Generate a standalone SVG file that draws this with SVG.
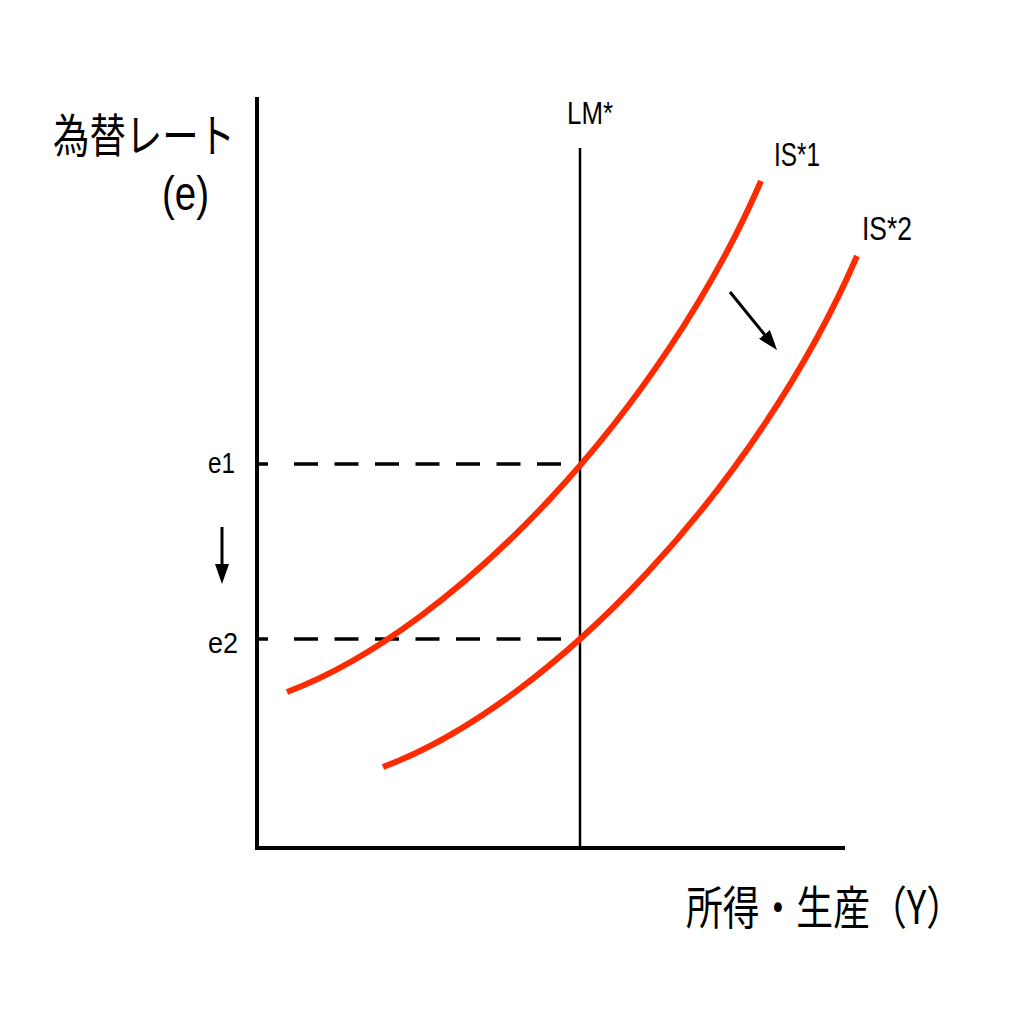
<svg xmlns="http://www.w3.org/2000/svg" width="1026" height="1026" viewBox="0 0 1026 1026">
<style>
.axis{stroke:#000;stroke-width:4;fill:none}
.lm{stroke:#000;stroke-width:2.5;fill:none}
.dash{stroke:#000;stroke-width:3.5;fill:none;stroke-dasharray:24 16.5}
.tick{stroke:#000;stroke-width:3.5;fill:none}
.is{stroke:#ff2b00;stroke-width:6;fill:none}
.arr{stroke:#000;stroke-width:3;fill:none;marker-end:url(#ah)}
.jp{font-family:"Noto Sans CJK JP","Noto Sans CJK SC",sans-serif;fill:#000}
.lat{font-family:"Liberation Sans",Arial,sans-serif;fill:#000}
</style>
<defs>
<marker id="ah" markerUnits="userSpaceOnUse" markerWidth="20" markerHeight="14" refX="2" refY="7" orient="auto">
<path d="M0,0 L20,7 L0,14 z" fill="#000"/>
</marker>
</defs>
<rect width="1026" height="1026" fill="#fff"/>
<g id="axes">
<line class="axis" x1="257" y1="97" x2="257" y2="850"/>
<line class="axis" x1="255" y1="848" x2="845" y2="848"/>
</g>
<g id="connectors">
<line class="tick" x1="257" y1="464" x2="268" y2="464"/>
<line class="dash" x1="294" y1="464" x2="575" y2="464"/>
<line class="tick" x1="257" y1="639" x2="268" y2="639"/>
<line class="dash" x1="294" y1="639" x2="575" y2="639"/>
<line class="arr" x1="222" y1="527" x2="222" y2="566"/>
<line class="arr" x1="730" y1="292" x2="765.7" y2="336"/>
</g>
<g id="LM">
<line class="lm" x1="580" y1="148" x2="580" y2="848"/>
<text class="lat" x="567" y="124" font-size="31" textLength="46" lengthAdjust="spacingAndGlyphs">LM*</text>
</g>
<g id="IS1">
<path class="is" d="M287,692 C457,628 662,410 761,181"/>
<text class="lat" x="774" y="166" font-size="33" textLength="46" lengthAdjust="spacingAndGlyphs">IS*1</text>
</g>
<g id="IS2">
<path class="is" d="M383,767 C553,703 758,485 857,256"/>
<text class="lat" x="862" y="240" font-size="33" textLength="50" lengthAdjust="spacingAndGlyphs">IS*2</text>
</g>
<g id="e1">
<text class="lat" x="208" y="473" font-size="29" textLength="27" lengthAdjust="spacingAndGlyphs">e1</text>
</g>
<g id="e2">
<text class="lat" x="208" y="653" font-size="29" textLength="30" lengthAdjust="spacingAndGlyphs">e2</text>
</g>
<g id="ylabel">
<text class="jp" x="53" y="152" font-size="46" textLength="182" lengthAdjust="spacingAndGlyphs">為替レート</text>
<text class="lat" x="162" y="210" font-size="48" textLength="47" lengthAdjust="spacingAndGlyphs">(e)</text>
</g>
<g id="xlabel">
<text class="jp" transform="translate(686,924) scale(0.8,1)" x="0" y="0" font-size="46">所得・生産（Y）</text>
</g>
</svg>
